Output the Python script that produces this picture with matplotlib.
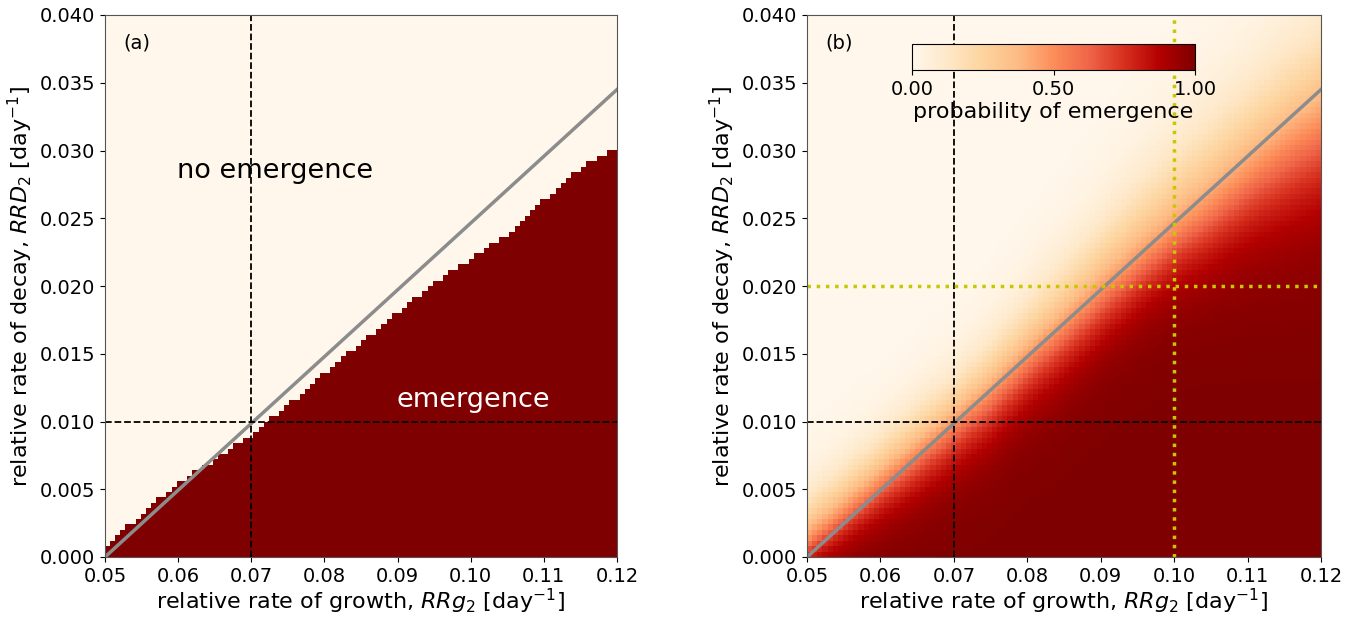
import numpy as np
import matplotlib
matplotlib.use("Agg")
import matplotlib.pyplot as plt

# grid of the simulation (100 x 100 cells)
n_cells = 100
rrg_range = [0.05, 0.12]
rrd_range = [0.0, 0.04]

# readings of the deterministic emergence boundary (panel a)
read_rrg = [0.050, 0.055, 0.060, 0.065, 0.070, 0.075, 0.080, 0.085, 0.090,
            0.095, 0.100, 0.105, 0.110, 0.115, 0.120]
boundary_rrd = [0.0007, 0.0031, 0.0055, 0.0072, 0.0090, 0.0112, 0.0136, 0.0158,
                0.0180, 0.0202, 0.0220, 0.0238, 0.0263, 0.0287, 0.0303]

# readings for the stochastic panel (b): 50 % level, spread below and above it
p50_rrd = [0.0012, 0.0034, 0.0056, 0.0077, 0.0098, 0.0120, 0.0146, 0.0170,
           0.0195, 0.0218, 0.0240, 0.0260, 0.0282, 0.0302, 0.0320]
spread_lo = [0.0010, 0.0013, 0.0015, 0.0017, 0.0018, 0.0019, 0.0019, 0.0020,
             0.0020, 0.0020, 0.0021, 0.0024, 0.0027, 0.0031, 0.0034]
spread_hi = [0.0018, 0.0018, 0.0018, 0.0019, 0.0019, 0.0021, 0.0023, 0.0025,
             0.0027, 0.0030, 0.0032, 0.0034, 0.0035, 0.0037, 0.0038]

neutral_line_rrg = [0.05, 0.12]
neutral_line_rrd = [0.0, 0.0345]

x_edges = np.linspace(*rrg_range, n_cells + 1)
y_edges = np.linspace(*rrd_range, n_cells + 1)
xc = 0.5 * (x_edges[1:] + x_edges[:-1])
yc = 0.5 * (y_edges[1:] + y_edges[:-1])
X, Y = np.meshgrid(xc, yc)

bnd = np.interp(xc, read_rrg, boundary_rrd)
det = (Y < bnd[None, :]).astype(float)

p50 = np.interp(xc, read_rrg, p50_rrd)[None, :]
s_lo = np.interp(xc, read_rrg, spread_lo)[None, :]
s_hi = np.interp(xc, read_rrg, spread_hi)[None, :]
sp = np.where(Y < p50, s_lo, s_hi)
prob = 1.0 / (1.0 + np.exp((Y - p50) / sp))

fig = plt.figure(figsize=(13.56, 6.17), dpi=100)
ax1 = fig.add_axes([105/1356, 60/617, 512/1356, 542/617])
ax2 = fig.add_axes([807/1356, 60/617, 514/1356, 542/617])

cmap = "OrRd"
ax1.pcolormesh(x_edges, y_edges, det, cmap=cmap, vmin=0, vmax=1)
mesh = ax2.pcolormesh(x_edges, y_edges, prob, cmap=cmap, vmin=0, vmax=1)

for ax in (ax1, ax2):
    ax.plot(neutral_line_rrg, neutral_line_rrd, color="#8c8c8c", lw=2.5)
    ax.axvline(0.07, color="k", ls="--", lw=1.3)
    ax.axhline(0.01, color="k", ls="--", lw=1.3)
    ax.set_xlim(rrg_range)
    ax.set_ylim(rrd_range)
    ax.set_xticks(np.arange(0.05, 0.1201, 0.01))
    ax.set_yticks(np.arange(0.0, 0.0401, 0.005))
    ax.set_xticklabels([f"{v:.2f}" for v in np.arange(0.05, 0.1201, 0.01)])
    ax.set_yticklabels([f"{v:.3f}" for v in np.arange(0.0, 0.0401, 0.005)])
    ax.tick_params(labelsize=14)
    ax.set_xlabel(r"relative rate of growth, $RRg_2$ [day$^{-1}$]", fontsize=16, labelpad=1)
    ax.set_ylabel(r"relative rate of decay, $RRD_2$ [day$^{-1}$]", fontsize=16, labelpad=3)
    for s in ax.spines.values():
        s.set_color("#555555")

ax1.text(0.0525, 0.0375, "(a)", fontsize=14)
ax1.text(0.0732, 0.0285, "no emergence", fontsize=19.5, ha="center", va="center")
ax1.text(0.1003, 0.0116, "emergence", fontsize=19.5, ha="center", va="center", color="white")

ax2.axvline(0.10, color="#c8c800", ls=":", lw=2.5)
ax2.axhline(0.02, color="#c8c800", ls=":", lw=2.5)
ax2.text(0.0525, 0.0375, "(b)", fontsize=14)

cax = fig.add_axes([912/1356, 547/617, 283/1356, 26/617])
cb = fig.colorbar(mesh, cax=cax, orientation="horizontal", ticks=[0, 0.5, 1])
cb.ax.set_xticklabels(["0.00", "0.50", "1.00"])
cb.ax.tick_params(labelsize=14)
cb.set_label("probability of emergence", fontsize=16, labelpad=2)

fig.savefig("out.png", dpi=100)
